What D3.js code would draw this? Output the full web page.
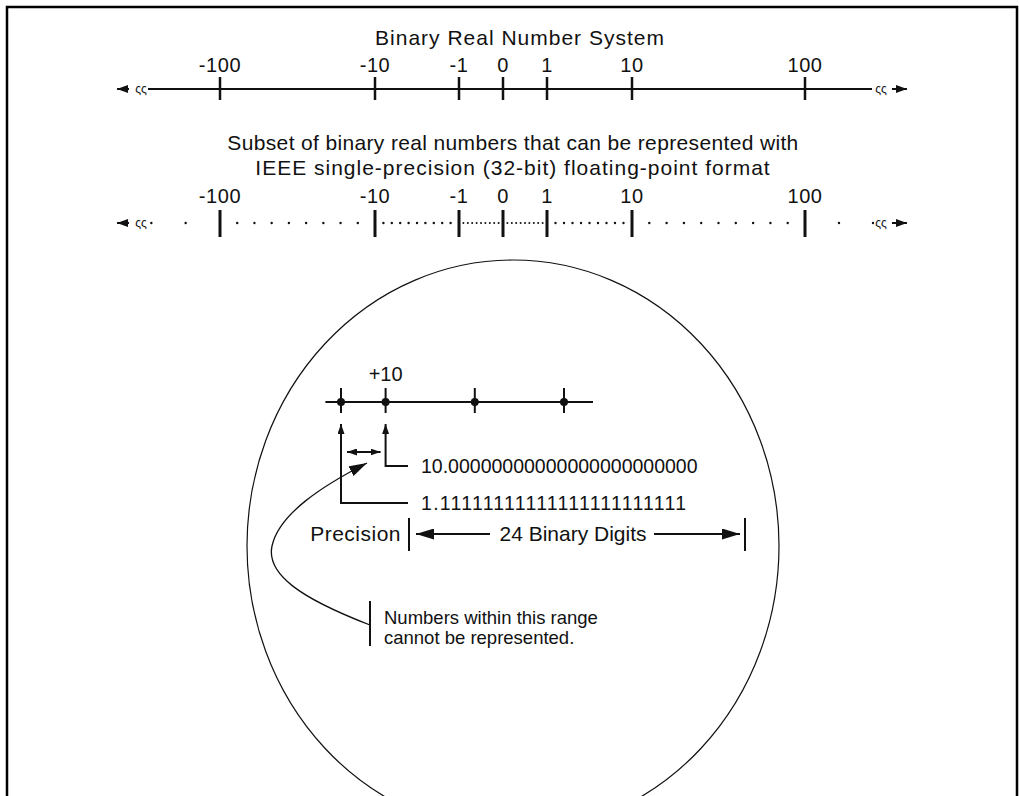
<!DOCTYPE html>
<html>
<head>
<meta charset="utf-8">
<script src="https://cdn.jsdelivr.net/npm/d3@7"></script>
<style>
  body { margin: 0; background: #fff; }
  text { font-family: "Liberation Sans", Arial, sans-serif; fill: #111; }
</style>
</head>
<body>
<svg id="fig" width="1019" height="796"></svg>
<script>
// number line values
const majorTicks = [-100, -10, -1, 0, 1, 10, 100];
const majorLabels = ["-100", "-10", "-1", "0", "1", "10", "100"];
const farDots = [-700, -400, 400, 700];
const hundredDots = [-90, -80, -70, -60, -50, -40, -30, -20, 19, 28, 37, 46, 55, 64, 73, 82, 91];
const tenDots = [-9.1, -8.2, -7.3, -6.4, -5.5, -4.6, -3.7, -2.8, -1.9, 1.9, 2.8, 3.7, 4.6, 5.5, 6.4, 7.3, 8.2, 9.1];
const unitDots = [-0.9, -0.8, -0.7, -0.6, -0.5, -0.4, -0.3, -0.2, -0.1, 0.1, 0.2, 0.3, 0.4, 0.5, 0.6, 0.7, 0.8, 0.9];

// magnified view around +10
const zoomTicks = [0, 1, 3, 5];
const zoomLabel = "+10";
const tenBinary = "10." + "0".repeat(23);
const belowTenBinary = "1." + "1".repeat(23);

const svg = d3.select("#fig");

const x = d3.scaleLinear()
  .domain([-1000, -100, -10, -1, 0, 1, 10, 100, 1000])
  .range([117, 220, 375, 459, 503, 547, 632, 805, 907]);

const xz = d3.scaleLinear().domain([0, 5]).range([341, 564]);

const defs = svg.append("defs");
function marker(id, w, h) {
  defs.append("marker")
    .attr("id", id)
    .attr("viewBox", `0 0 ${w} ${h}`)
    .attr("refX", w)
    .attr("refY", h / 2)
    .attr("markerWidth", w)
    .attr("markerHeight", h)
    .attr("markerUnits", "userSpaceOnUse")
    .attr("orient", "auto-start-reverse")
    .append("path")
    .attr("d", `M0,0L${w},${h / 2}L0,${h}Z`)
    .attr("fill", "#111");
}
marker("small", 10, 7);
marker("end", 11, 8);
marker("big", 18, 11);

// frame
svg.append("path")
  .attr("d", "M7,800V7H1017V800")
  .attr("fill", "none")
  .attr("stroke", "#000")
  .attr("stroke-width", 2.5);

function breakEnds(g, y) {
  const lo = x.domain()[0], hi = x.domain()[x.domain().length - 1];
  g.append("line")
    .attr("x1", x(lo) + 12).attr("x2", x(lo)).attr("y1", y).attr("y2", y)
    .attr("stroke", "#111").attr("stroke-width", 2)
    .attr("marker-end", "url(#end)");
  g.append("line")
    .attr("x1", x(hi) - 15).attr("x2", x(hi)).attr("y1", y).attr("y2", y)
    .attr("stroke", "#111").attr("stroke-width", 2)
    .attr("marker-end", "url(#end)");
  g.selectAll("text.brk")
    .data([x(lo) + 24, x(hi) - 26])
    .join("text")
    .attr("class", "brk")
    .attr("x", d => d)
    .attr("y", y + 4)
    .attr("text-anchor", "middle")
    .attr("font-size", 12)
    .text("ςς");
}

// ---- full real line ----
const realLine = svg.append("g");
realLine.append("text")
  .attr("x", 520).attr("y", 45)
  .attr("text-anchor", "middle")
  .attr("font-size", 21)
  .attr("letter-spacing", 1)
  .text("Binary Real Number System");

const y1 = 89;
realLine.append("line")
  .attr("x1", x(-1000) + 31).attr("x2", x(1000) - 35)
  .attr("y1", y1).attr("y2", y1)
  .attr("stroke", "#111").attr("stroke-width", 2);
realLine.selectAll("line.tk")
  .data(majorTicks)
  .join("line")
  .attr("class", "tk")
  .attr("x1", d => x(d)).attr("x2", d => x(d))
  .attr("y1", y1 - 12).attr("y2", y1 + 11)
  .attr("stroke", "#111").attr("stroke-width", 2.5);
realLine.selectAll("text.lb")
  .data(majorTicks)
  .join("text")
  .attr("class", "lb")
  .attr("x", d => x(d))
  .attr("y", y1 - 17)
  .attr("text-anchor", "middle")
  .attr("font-size", 20)
  .attr("letter-spacing", 0.6)
  .text((d, i) => majorLabels[i]);
breakEnds(realLine, y1);

// ---- representable subset ----
const subset = svg.append("g");
subset.selectAll("text.ttl")
  .data(["Subset of binary real numbers that can be represented with",
         "IEEE single-precision (32-bit) floating-point format"])
  .join("text")
  .attr("class", "ttl")
  .attr("x", 513)
  .attr("y", (d, i) => 150 + i * 25)
  .attr("text-anchor", "middle")
  .attr("font-size", 21)
  .attr("letter-spacing", (d, i) => i ? 1 : 0.35)
  .text(d => d);

const y2 = 223;
subset.selectAll("line.tk")
  .data(majorTicks)
  .join("line")
  .attr("class", "tk")
  .attr("x1", d => x(d)).attr("x2", d => x(d))
  .attr("y1", y2 - 13).attr("y2", y2 + 14)
  .attr("stroke", "#111").attr("stroke-width", 3);
subset.selectAll("text.lb")
  .data(majorTicks)
  .join("text")
  .attr("class", "lb")
  .attr("x", d => x(d))
  .attr("y", y2 - 20)
  .attr("text-anchor", "middle")
  .attr("font-size", 20)
  .attr("letter-spacing", 0.6)
  .text((d, i) => majorLabels[i]);
subset.selectAll("circle.dot")
  .data(farDots.concat(hundredDots, tenDots))
  .join("circle")
  .attr("class", "dot")
  .attr("cx", d => x(d)).attr("cy", y2)
  .attr("r", 1.2)
  .attr("fill", "#111");
subset.selectAll("circle.fine")
  .data(unitDots)
  .join("circle")
  .attr("class", "fine")
  .attr("cx", d => x(d)).attr("cy", y2)
  .attr("r", 1)
  .attr("fill", "#111");
breakEnds(subset, y2);

// ---- magnifier ----
svg.append("ellipse")
  .attr("cx", 513).attr("cy", 546).attr("rx", 266).attr("ry", 286)
  .attr("fill", "none")
  .attr("stroke", "#111").attr("stroke-width", 1.2);

const mag = svg.append("g");
const y3 = 402;
mag.append("line")
  .attr("x1", xz(-0.35)).attr("x2", xz(5.65))
  .attr("y1", y3).attr("y2", y3)
  .attr("stroke", "#111").attr("stroke-width", 2);
mag.selectAll("line.tk")
  .data(zoomTicks)
  .join("line")
  .attr("class", "tk")
  .attr("x1", d => xz(d)).attr("x2", d => xz(d))
  .attr("y1", y3 - 14).attr("y2", y3 + 11)
  .attr("stroke", "#111").attr("stroke-width", 2);
mag.selectAll("circle")
  .data(zoomTicks)
  .join("circle")
  .attr("cx", d => xz(d)).attr("cy", y3)
  .attr("r", 4)
  .attr("fill", "#111");
mag.append("text")
  .attr("x", xz(1)).attr("y", y3 - 21)
  .attr("text-anchor", "middle")
  .attr("font-size", 20)
  .text(zoomLabel);

// pointers to the two neighbouring values
const pointers = [
  { v: 1, y: 466, label: tenBinary, ls: 0 },
  { v: 0, y: 503, label: belowTenBinary, ls: 1.3 }
];
mag.selectAll("path.ptr")
  .data(pointers)
  .join("path")
  .attr("class", "ptr")
  .attr("d", d => `M408,${d.y}H${xz(d.v)}V${y3 + 22}`)
  .attr("fill", "none")
  .attr("stroke", "#111").attr("stroke-width", 2)
  .attr("marker-end", "url(#small)");
mag.selectAll("text.num")
  .data(pointers)
  .join("text")
  .attr("class", "num")
  .attr("x", 421)
  .attr("y", d => d.y + 7)
  .attr("font-size", 19.5)
  .attr("letter-spacing", d => d.ls)
  .text(d => d.label);

// gap between them
mag.append("line")
  .attr("x1", xz(0) + 6).attr("x2", xz(1) - 5)
  .attr("y1", 452).attr("y2", 452)
  .attr("stroke", "#111").attr("stroke-width", 2)
  .attr("marker-start", "url(#small)")
  .attr("marker-end", "url(#small)");

// precision bracket
const yp = 534;
mag.append("text")
  .attr("x", 401).attr("y", yp + 7)
  .attr("text-anchor", "end")
  .attr("font-size", 21)
  .attr("letter-spacing", 0.5)
  .text("Precision");
mag.selectAll("line.bar")
  .data([409, 745])
  .join("line")
  .attr("class", "bar")
  .attr("x1", d => d).attr("x2", d => d)
  .attr("y1", yp - 16).attr("y2", yp + 17)
  .attr("stroke", "#111").attr("stroke-width", 2);
mag.append("text")
  .attr("x", 573).attr("y", yp + 7)
  .attr("text-anchor", "middle")
  .attr("font-size", 21)
  .text("24 Binary Digits");
mag.append("line")
  .attr("x1", 490).attr("x2", 416).attr("y1", yp).attr("y2", yp)
  .attr("stroke", "#111").attr("stroke-width", 2)
  .attr("marker-end", "url(#big)");
mag.append("line")
  .attr("x1", 654).attr("x2", 740).attr("y1", yp).attr("y2", yp)
  .attr("stroke", "#111").attr("stroke-width", 2)
  .attr("marker-end", "url(#big)");

// note with curved pointer
mag.append("line")
  .attr("x1", 370).attr("x2", 370).attr("y1", 601).attr("y2", 646)
  .attr("stroke", "#111").attr("stroke-width", 2);
mag.selectAll("text.note")
  .data(["Numbers within this range", "cannot be represented."])
  .join("text")
  .attr("class", "note")
  .attr("x", 384)
  .attr("y", (d, i) => 624 + i * 20)
  .attr("font-size", 18.5)
  .text(d => d);
mag.append("path")
  .attr("d", "M370,625C300,598 266,574 272,546C279,514 322,486 367,463")
  .attr("fill", "none")
  .attr("stroke", "#111").attr("stroke-width", 1.3)
  .attr("marker-end", "url(#big)");
</script>
</body>
</html>
